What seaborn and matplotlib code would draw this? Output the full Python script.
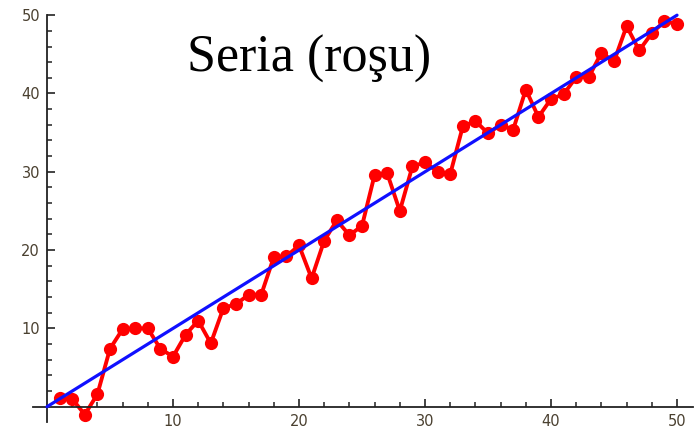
import matplotlib
matplotlib.use("Agg")
import matplotlib.pyplot as plt
import seaborn as sns
import pandas as pd
from matplotlib.ticker import FixedLocator

# Data
x_vals = list(range(1, 51))
y_vals = [1.1, 1.0, -1.0, 1.6, 7.4, 9.9, 10.0, 10.0, 7.4, 6.4,
          9.2, 11.0, 8.1, 12.6, 13.1, 14.3, 14.3, 19.1, 19.2, 20.6,
          16.4, 21.2, 23.8, 21.9, 23.1, 29.6, 29.8, 25.0, 30.7, 31.2,
          30.0, 29.7, 35.8, 36.5, 34.9, 36.0, 35.4, 40.5, 37.0, 39.3,
          39.9, 42.1, 42.1, 45.2, 44.1, 48.6, 45.5, 47.7, 49.2, 48.9]
fit_x = [0, 50]
fit_y = [0, 50]
x_ticks = [10, 20, 30, 40, 50]
y_ticks = [10, 20, 30, 40, 50]
minor_ticks = [2, 4, 6, 8, 12, 14, 16, 18, 22, 24, 26, 28,
               32, 34, 36, 38, 42, 44, 46, 48]
title_text = "Seria (roşu)"

sns.set_style("white")

fig = plt.figure(figsize=(6.99, 4.30), dpi=100)
ax = fig.add_axes([0.0474, 0.0177, 0.9446, 0.947])

series = pd.DataFrame({"x": x_vals, "y": y_vals})
fit = pd.DataFrame({"x": fit_x, "y": fit_y})

sns.lineplot(data=series, x="x", y="y", ax=ax, color="#ff0000", lw=2.8,
             marker="o", markersize=9.5, markeredgewidth=0, clip_on=False, zorder=2)
sns.lineplot(data=fit, x="x", y="y", ax=ax, color="#1010ff", lw=2.3,
             clip_on=False, zorder=3)

ax.set_xlim(-1.1, 51.3)
ax.set_ylim(-2, 50)

for s in ["top", "right"]:
    ax.spines[s].set_visible(False)
ax.spines["left"].set_position(("data", 0))
ax.spines["bottom"].set_position(("data", 0))
for s in ["left", "bottom"]:
    ax.spines[s].set_color("#222222")
    ax.spines[s].set_linewidth(1.3)

ax.set_xticks(x_ticks)
ax.set_yticks(y_ticks)
ax.xaxis.set_minor_locator(FixedLocator(minor_ticks))
ax.yaxis.set_minor_locator(FixedLocator(minor_ticks))
ax.tick_params(which="major", direction="in", length=6, width=1.2, color="#222222",
               labelsize=10.5, labelcolor="#4a4030", pad=5)
ax.tick_params(which="minor", direction="in", length=3.5, width=1.1, color="#222222")
ax.tick_params(axis="x", which="both", bottom=True)
ax.tick_params(axis="y", which="both", left=True)
ax.set_xlabel("")
ax.set_ylabel("")

fig.text(0.442, 0.8326, title_text, family="Liberation Serif", fontsize=37.5,
         color="black", ha="center", va="baseline")

fig.savefig("out.png", dpi=100)
